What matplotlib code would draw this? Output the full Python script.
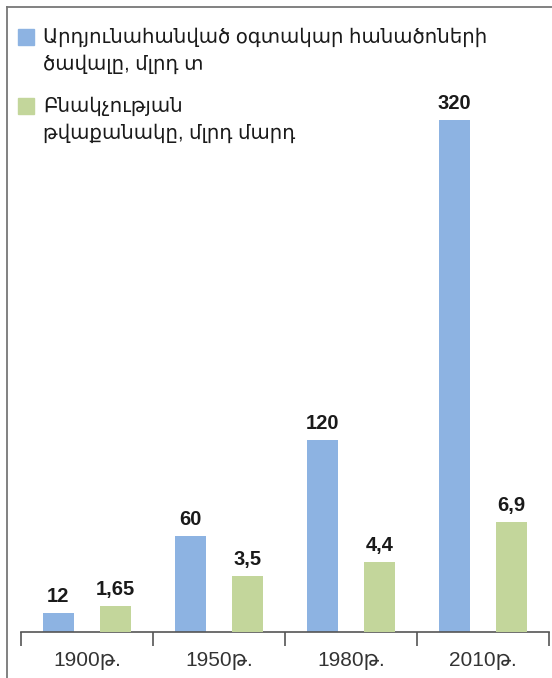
import matplotlib
matplotlib.use("Agg")
import matplotlib.pyplot as plt
from matplotlib.lines import Line2D
from matplotlib.patches import Rectangle
import numpy as np

plt.rcParams['font.family'] = ['Liberation Sans', 'DejaVu Sans']

years = ['1900թ.', '1950թ.', '1980թ.', '2010թ.']
minerals = [12, 60, 120, 320]             # billion tonnes
population = [1.65, 3.5, 4.4, 6.9]        # billion people
minerals_txt = ['12', '60', '120', '320']
population_txt = ['1,65', '3,5', '4,4', '6,9']
legend_labels = [['Արդյունահանված օգտակար հանածոների', 'ծավալը, մլրդ տ'],
                 ['Բնակչության', 'թվաքանակը, մլրդ մարդ']]

blue = '#8db3e2'
green = '#c3d69b'
text_col = '#1a1a1a'

W, H = 552, 678
fig = plt.figure(figsize=(W / 100, H / 100), dpi=100)

# axes placed in pixel terms: baseline at y=632, x from 21 to 549
x0, x1, ybase, ytop = 21, 549, 632, 100
ax = fig.add_axes([x0 / W, (H - ybase) / H, (x1 - x0) / W, (ybase - ytop) / H])
ymax = (ybase - ytop) / 1.6
ax.set_ylim(0, ymax)
ax2 = ax.twinx()
ax2.set_ylim(0, ymax / 10)

x = np.arange(len(years))
w = 0.235
off = 0.217

b1 = ax.bar(x - off, minerals, w, color=blue)
b2 = ax2.bar(x + off, population, w, color=green)

for rect, t in zip(b1, minerals_txt):
    ax.annotate(t, (rect.get_x() + rect.get_width() / 2, rect.get_height()),
                xytext=(0, 5), textcoords='offset points', ha='center', va='bottom',
                fontsize=14.5, fontweight='bold', color=text_col)
for rect, t in zip(b2, population_txt):
    ax2.annotate(t, (rect.get_x() + rect.get_width() / 2, rect.get_height()),
                 xytext=(0, 5), textcoords='offset points', ha='center', va='bottom',
                 fontsize=14.5, fontweight='bold', color=text_col)

ax.set_xlim(-0.5, len(years) - 0.5)
for a in (ax, ax2):
    for s in ['top', 'right', 'left']:
        a.spines[s].set_visible(False)
    a.set_yticks([])
ax2.spines['bottom'].set_visible(False)
ax.spines['bottom'].set_color('#555555')
ax.spines['bottom'].set_linewidth(1.2)

ax.set_xticks(np.arange(len(years) + 1) - 0.5)
ax.set_xticklabels([])
ax.tick_params(axis='x', which='major', length=10, width=1.2, color='#555555', direction='out')
ax.set_xticks(x, minor=True)
ax.set_xticklabels(years, minor=True, fontsize=15, color='#333333')
ax.tick_params(axis='x', which='minor', length=0, pad=14)

# frame lines (left and top)
fig.add_artist(Line2D([7 / W, 7 / W], [0, 1 - 7 / H], color='#777777', lw=1.3))
fig.add_artist(Line2D([7 / W, 1], [1 - 7 / H, 1 - 7 / H], color='#777777', lw=1.3))

# legend drawn by hand
for (ysq, col, lines) in [(29, blue, legend_labels[0]), (98, green, legend_labels[1])]:
    fig.add_artist(Rectangle((18 / W, 1 - (ysq + 16) / H), 16 / W, 16 / H,
                             transform=fig.transFigure, color=col))
    for i, line in enumerate(lines):
        fig.text(43 / W, 1 - (ysq + 8 + 27 * i) / H, line, fontsize=14.2,
                 color=text_col, va='center', ha='left')

fig.savefig('out.png', dpi=100)
